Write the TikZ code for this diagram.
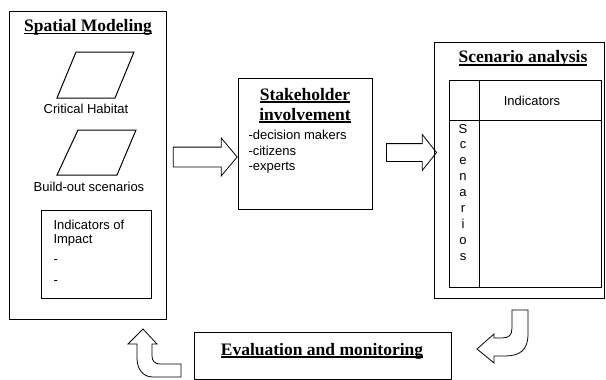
\documentclass[tikz,border=0pt]{standalone}
\usepackage{fontspec}
\setmainfont{Liberation Serif}
\setsansfont{Liberation Sans}
\usetikzlibrary{positioning}
\usetikzlibrary{shapes,shapes.arrows,calc}

\newsavebox{\ttlbox}
\newcommand{\ttl}[1]{\sbox{\ttlbox}{#1}\leavevmode\rlap{\vrule height -1.4pt depth 2.8pt width \wd\ttlbox}\usebox{\ttlbox}}

\begin{document}
\begin{tikzpicture}[x=1pt,y=-1pt,line width=1pt,
  box/.style={draw,inner sep=0pt,anchor=north west},
  heading/.style={anchor=base,inner sep=0pt,font=\fontsize{17.5}{20}\selectfont\bfseries},
  plain/.style={anchor=base west,inner sep=0pt,font=\sffamily\fontsize{13}{15}\selectfont},
  fat/.style={draw,line width=.8pt,single arrow,inner xsep=0pt,single arrow head extend=9pt}]
\useasboundingbox (0,0) rectangle (606,380);

% boxes
\node[box,minimum width=157pt,minimum height=308pt] at (9,11) (spatial) {};
\node[box,minimum width=110pt,minimum height=88pt] at (41,210) (impact) {};
\node[box,minimum width=134pt,minimum height=131pt] at (238,78) (stake) {};
\node[box,minimum width=170pt,minimum height=256pt] at (434,42) (scen) {};
\node[box,minimum width=152pt,minimum height=207pt] at (449,80) (grid) {};
\node[box,minimum width=257pt,minimum height=47pt] at (194,332) (eval) {};

% headings
\node[heading] at (88,31.5) (spatialT) {\ttl{Spatial Modeling}};
\node[heading] at (305,100) (stakeT) {\ttl{Stakeholder}};
\node[heading] at (305,120) (stakeU) {\ttl{involvement}};
\node[heading] at (523,63) (scenT) {\ttl{Scenario analysis}};
\node[heading] at (322,355) (evalT) {\ttl{Evaluation and monitoring}};

% spatial modeling
\draw (76,52) -- (134,52) -- (115,98) -- (57,98) -- cycle;
\draw (78,130) -- (136,130) -- (117,175) -- (57,175) -- cycle;
\node[plain,anchor=base] at (86,113) (habitat) {Critical Habitat};
\node[plain,anchor=base] at (89,191.5) (buildout) {Build-out scenarios};
\node[plain] at (53,229) (ind1) {Indicators of};
\node[plain] at (53,243.5) (ind2) {Impact};
\node[plain] at (53,263) (ind3) {-};
\node[plain] at (53,284) (ind4) {-};

% stakeholders
\node[plain] at (248,139) (who1) {-decision makers};
\node[plain] at (248,155) (who2) {-citizens};
\node[plain] at (248,170.5) (who3) {-experts};

% scenario table
\draw (479,80) -- (479,287);
\draw (449,120) -- (601,120);
\node[plain,anchor=base] at (532,105) (indic) {Indicators};
\foreach \ch [count=\i] in {S,c,e,n,a,r,i,o,s}
  \node[plain,anchor=base] at (463,{133+15.9*(\i-1)}) (sc\i) {\ch};

% arrows
\node[fat,inner ysep=9.5pt,minimum height=64pt,single arrow tip angle=100] at (201,157) (arrA) {};
\node[fat,inner ysep=8.5pt,minimum height=50pt,single arrow tip angle=103] at (408,152.5) (arrB) {};
\draw[line width=.8pt] (512,310) -- (528,310) -- (528,334) .. controls (528,350) and (520,356) .. (505,356)
  -- (494,356) -- (494,363) -- (477,349) -- (494,334) -- (494,338) -- (502,338)
  .. controls (509,338) and (512,335) .. (512,328) -- cycle;
\draw[line width=.8pt] (181,364) -- (181,377) -- (153,377) .. controls (142,377) and (137,368) .. (137,358)
  -- (137,344) -- (128,344) -- (143,329) -- (157,344) -- (152,344) -- (152,356)
  .. controls (152,361) and (155,364) .. (160,364) -- cycle;
\end{tikzpicture}
\end{document}
